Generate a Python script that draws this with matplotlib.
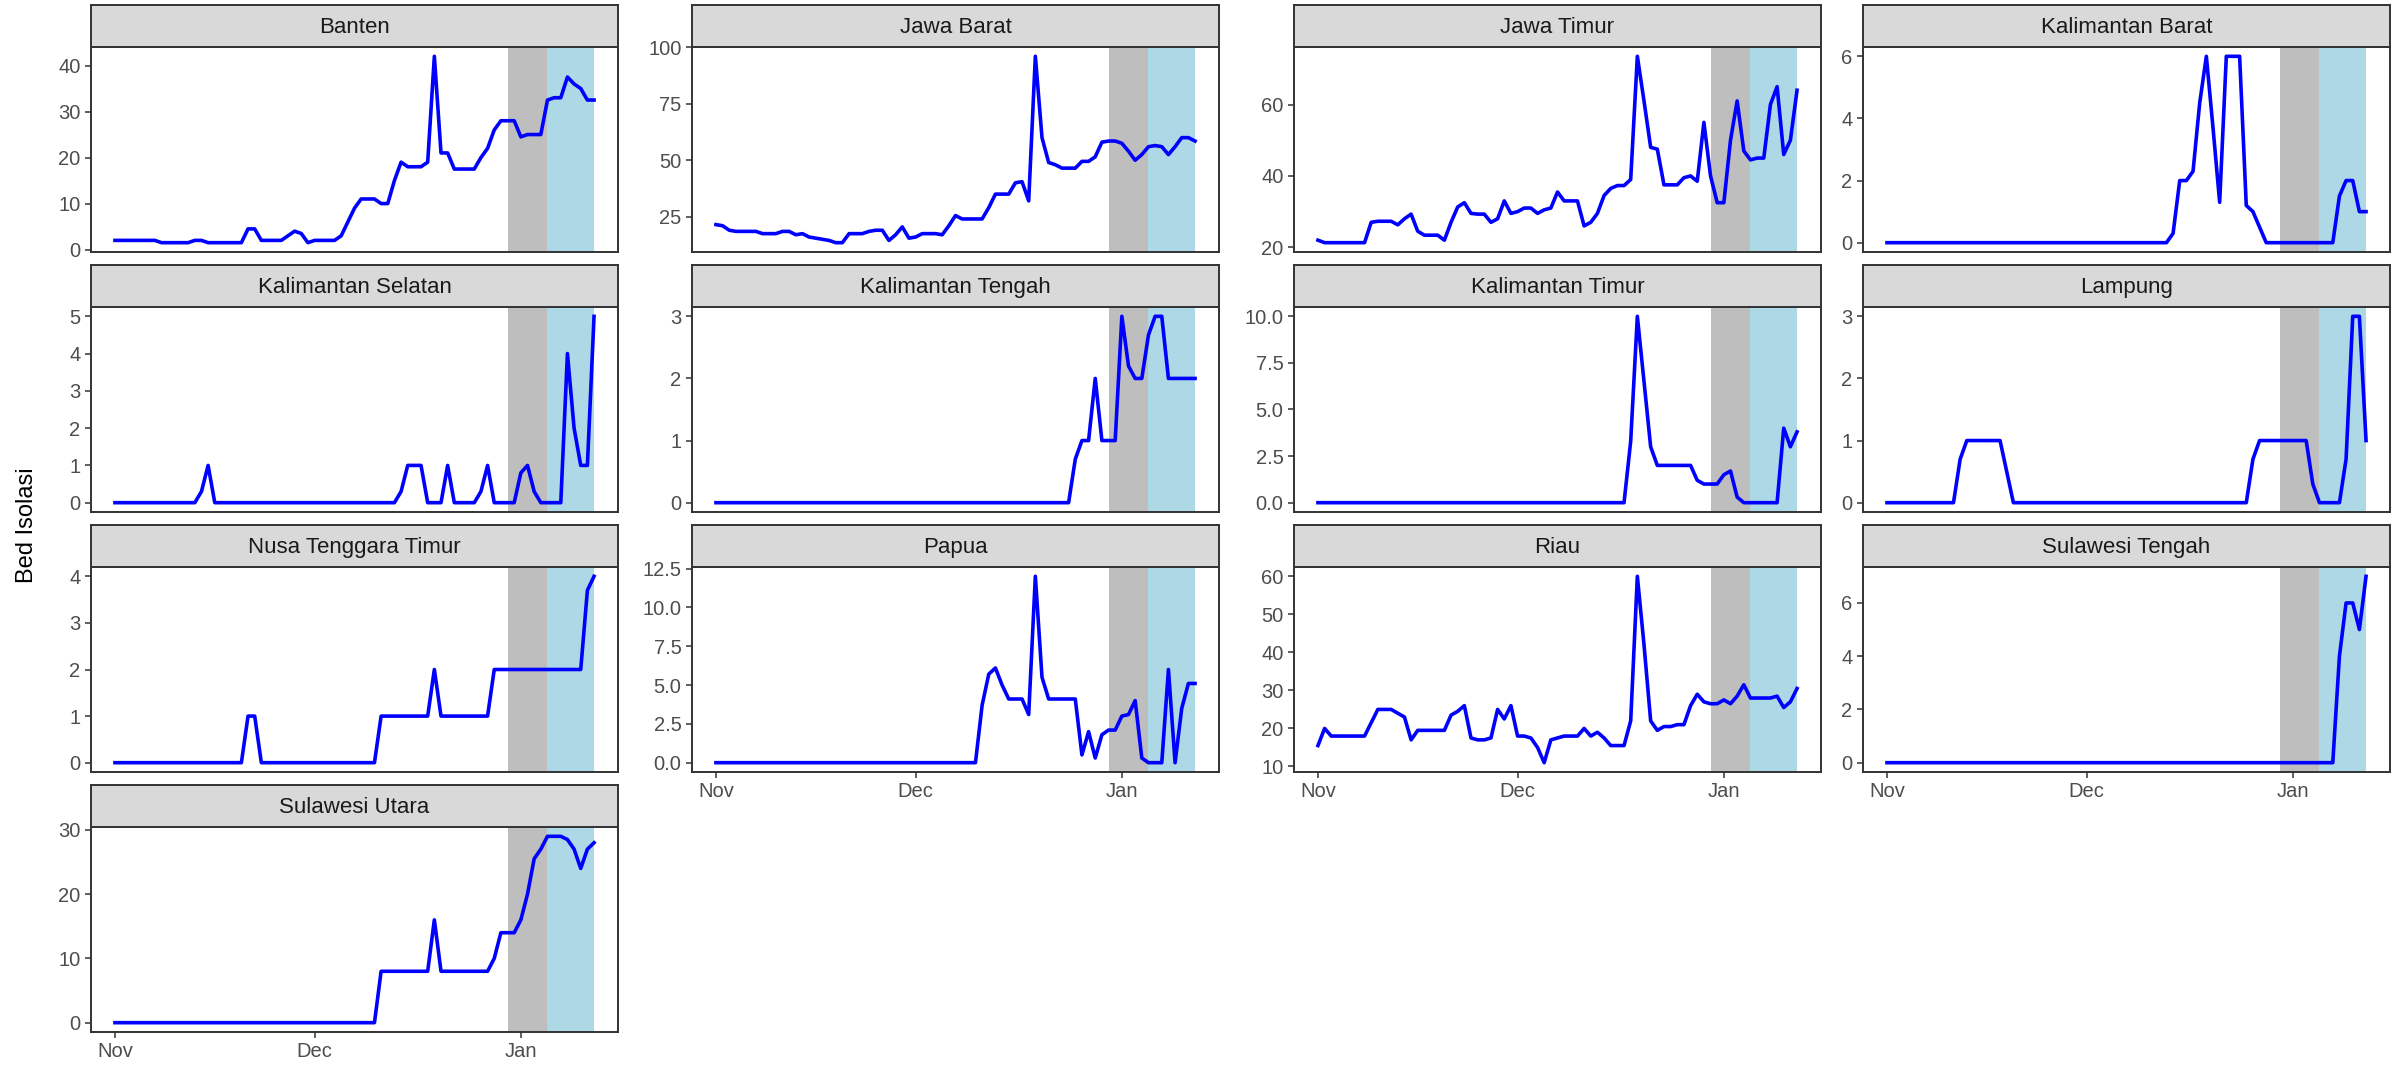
import matplotlib
matplotlib.use('Agg')
import matplotlib.pyplot as plt
import pandas as pd

# ---------------- data ----------------
dates = pd.date_range('2020-11-01', '2021-01-12', freq='D')

provinces = ['Banten', 'Jawa Barat', 'Jawa Timur', 'Kalimantan Barat',
             'Kalimantan Selatan', 'Kalimantan Tengah', 'Kalimantan Timur', 'Lampung',
             'Nusa Tenggara Timur', 'Papua', 'Riau', 'Sulawesi Tengah',
             'Sulawesi Utara']

banten = ([2] * 7 + [1.5] * 5 + [2, 2] + [1.5] * 6 + [4.5, 4.5, 2] + [2, 2, 2]
          + [3, 4, 3.5, 1.5] + [2, 2, 2, 2] + [3, 6, 9] + [11, 11, 11] + [10, 10]
          + [15, 19] + [18, 18, 18] + [19, 42, 21] + [21] + [17.5] * 4
          + [20, 22, 26, 28, 28, 28] + [24.5, 25, 25, 25]
          + [32.5, 33, 33, 37.5, 36, 35, 32.5, 32.5])

jawa_barat = ([21.5, 21, 19] + [18.5] * 4 + [17.5] * 3 + [18.5, 18.5]
              + [17, 17.5, 16, 15.5, 15, 14.5] + [13.5, 13.5]
              + [17.5, 17.5, 17.5, 18.5, 19, 19]
              + [14.5, 17, 20.5, 15.5, 16, 17.5, 17.5, 17.5]
              + [17, 21, 25.5, 24, 24, 24, 24]
              + [29, 35, 35, 35, 40, 40.5]
              + [32, 96, 60, 49, 48, 46.5, 46.5, 46.5]
              + [49.5, 49.5, 51.5, 58, 58.5, 58.5]
              + [57.5, 54, 50, 52.5, 56, 56.5, 56, 52.5, 56, 60, 60, 58.5])

jawa_timur = ([22] + [21.3] * 7
              + [27, 27.3, 27.3, 27.3, 26.3, 28, 29.3]
              + [24.5, 23.4, 23.4, 23.4, 22]
              + [27, 31.3, 32.5, 29.5, 29.3, 29.3]
              + [27, 28, 33, 29.5, 30, 31, 31, 29.5]
              + [30.5, 31, 35.5, 33, 33, 33]
              + [26, 27, 29.5, 34.5, 36.5, 37.3, 37.3, 39]
              + [73.5, 61, 48, 47.5, 37.5, 37.5, 37.5]
              + [39.5, 40, 38.5, 55, 40, 32.5, 32.5]
              + [50, 61, 47, 44.5, 45, 45]
              + [60, 65, 46, 50, 64])

kalimantan_barat = ([0] * 43
                    + [0.3, 2, 2, 2.3, 4.5, 6, 3.7, 1.3, 6, 6, 6, 1.2, 1, 0.5, 0]
                    + [0] * 9
                    + [0, 1.5, 2, 2, 1, 1])

kalimantan_selatan = ([0] * 13 + [0.3, 1, 0] + [0] * 27
                      + [0.3, 1, 1, 1, 0] + [0, 0] + [1, 0] + [0, 0, 0]
                      + [0.3, 1, 0] + [0, 0, 0] + [0.8, 1, 0.3] + [0] * 4
                      + [4, 2, 1, 1, 5])

kalimantan_tengah = ([0] * 54
                     + [0.7, 1, 1, 2, 1, 1, 1, 3, 2.2, 2, 2, 2.7, 3, 3, 2, 2, 2, 2, 2])

kalimantan_timur = ([0] * 47
                    + [3.3, 10, 6.5, 3, 2] + [2] * 5
                    + [1.2, 1, 1, 1, 1.5, 1.7, 0.3] + [0] * 6
                    + [4, 3, 3.8])

lampung = ([0] * 11 + [0.7] + [1] * 6 + [0.5] + [0] * 36
           + [0.7] + [1] * 8 + [0.3] + [0] * 4
           + [0.7, 3, 3, 1])

nusa_tenggara_timur = ([0] * 20 + [1, 1] + [0] * 18 + [1] * 8 + [2] + [1] * 8
                       + [2] * 14 + [3.7, 4])

papua = ([0] * 40
         + [3.7, 5.7, 6.1, 5, 4.1, 4.1, 4.1, 3.1]
         + [12, 5.5, 4.1, 4.1, 4.1, 4.1, 4.1]
         + [0.5, 2, 0.3, 1.8, 2.1, 2.1, 3, 3.1, 4, 0.3]
         + [0, 0, 0, 6, 0, 3.5, 5.1, 5.1])

riau = ([15.5, 20] + [18] * 6
        + [21.5, 25, 25, 25, 24, 23, 17] + [19.5] * 5
        + [23.5, 24.5, 26, 17.5, 17, 17, 17.5]
        + [25, 22.5, 26, 18, 18, 17.5, 15, 11, 17, 17.5]
        + [18, 18, 18]
        + [20, 18, 19, 17.5, 15.5, 15.5, 15.5]
        + [22, 60, 42, 22, 19.5, 20.5, 20.5, 21, 21]
        + [26, 29, 27, 26.5, 26.5, 27.5, 26.5, 28.5, 31.5, 28]
        + [28, 28, 28]
        + [28.5, 25.5, 27, 30.5])

sulawesi_tengah = [0] * 68 + [4, 6, 6, 5, 7]

sulawesi_utara = ([0] * 40 + [8] * 8 + [16] + [8] * 8
                  + [10, 14, 14, 14, 16, 20, 25.5, 27, 29, 29, 29, 28.5]
                  + [27, 24, 27, 28])

series = [banten, jawa_barat, jawa_timur, kalimantan_barat,
          kalimantan_selatan, kalimantan_tengah, kalimantan_timur, lampung,
          nusa_tenggara_timur, papua, riau, sulawesi_tengah, sulawesi_utara]

y_ticks = [[0, 10, 20, 30, 40], [25, 50, 75, 100], [20, 40, 60], [0, 2, 4, 6],
           [0, 1, 2, 3, 4, 5], [0, 1, 2, 3], [0, 2.5, 5, 7.5, 10], [0, 1, 2, 3],
           [0, 1, 2, 3, 4], [0, 2.5, 5, 7.5, 10, 12.5], [10, 20, 30, 40, 50, 60],
           [0, 2, 4, 6], [0, 10, 20, 30]]

x_tick_dates = pd.to_datetime(['2020-11-01', '2020-12-01', '2021-01-01'])
x_tick_labels = ['Nov', 'Dec', 'Jan']
gray_span = pd.to_datetime(['2020-12-30', '2021-01-05'])
blue_span = pd.to_datetime(['2021-01-05', '2021-01-12'])
y_label = 'Bed Isolasi'

# ---------------- layout / style ----------------
plt.rcParams['font.family'] = ['Liberation Sans', 'DejaVu Sans']
W, H = 2399, 1066
fig = plt.figure(figsize=(W / 100, H / 100), dpi=100)
fig.patch.set_facecolor('white')

col_left = [91, 692, 1294, 1863]
panel_w = 527
row_top = [5, 265, 525, 785]
strip_h = 42
panel_h = 205
border = '#333333'

for i, (name, vals, ticks) in enumerate(zip(provinces, series, y_ticks)):
    r, c = divmod(i, 4)
    x0 = col_left[c]
    top = row_top[r]
    ax = fig.add_axes([x0 / W, 1 - (top + strip_h + panel_h) / H, panel_w / W, panel_h / H])
    ax.axvspan(gray_span[0], gray_span[1], color='#BEBEBE', lw=0, zorder=1)
    ax.axvspan(blue_span[0], blue_span[1], color='#ADD8E6', lw=0, zorder=1)
    ax.plot(dates, vals, color='#0000FF', lw=2.6, zorder=3, solid_joinstyle='round')
    ax.margins(x=0.05, y=0.05)
    ax.set_yticks(ticks)
    if all(float(t).is_integer() for t in ticks):
        ax.set_yticklabels(['%d' % t for t in ticks])
    else:
        ax.set_yticklabels(['%.1f' % t for t in ticks])
    ax.set_xticks(x_tick_dates)
    ax.set_xticklabels(x_tick_labels)
    show_x = (r == 3) or (r == 2 and c > 0)
    ax.tick_params(axis='both', length=4.5, width=1.1, color=border,
                   labelcolor='#4D4D4D', labelsize=14.5, pad=3)
    if not show_x:
        ax.tick_params(axis='x', bottom=False, labelbottom=False)
    for s in ax.spines.values():
        s.set_color(border)
        s.set_linewidth(1.4)
    ax.set_facecolor('white')

    sax = fig.add_axes([x0 / W, 1 - (top + strip_h) / H, panel_w / W, strip_h / H])
    sax.set_facecolor('#D9D9D9')
    sax.set_xticks([])
    sax.set_yticks([])
    for s in sax.spines.values():
        s.set_color(border)
        s.set_linewidth(1.4)
    sax.text(0.5, 0.47, name, ha='center', va='center', fontsize=16,
             color='#1A1A1A', transform=sax.transAxes)

fig.text(27 / W, 1 - 525 / H, y_label, rotation=90, ha='center', va='center',
         fontsize=17, color='black')

fig.savefig('out.png', dpi=100, facecolor='white')
